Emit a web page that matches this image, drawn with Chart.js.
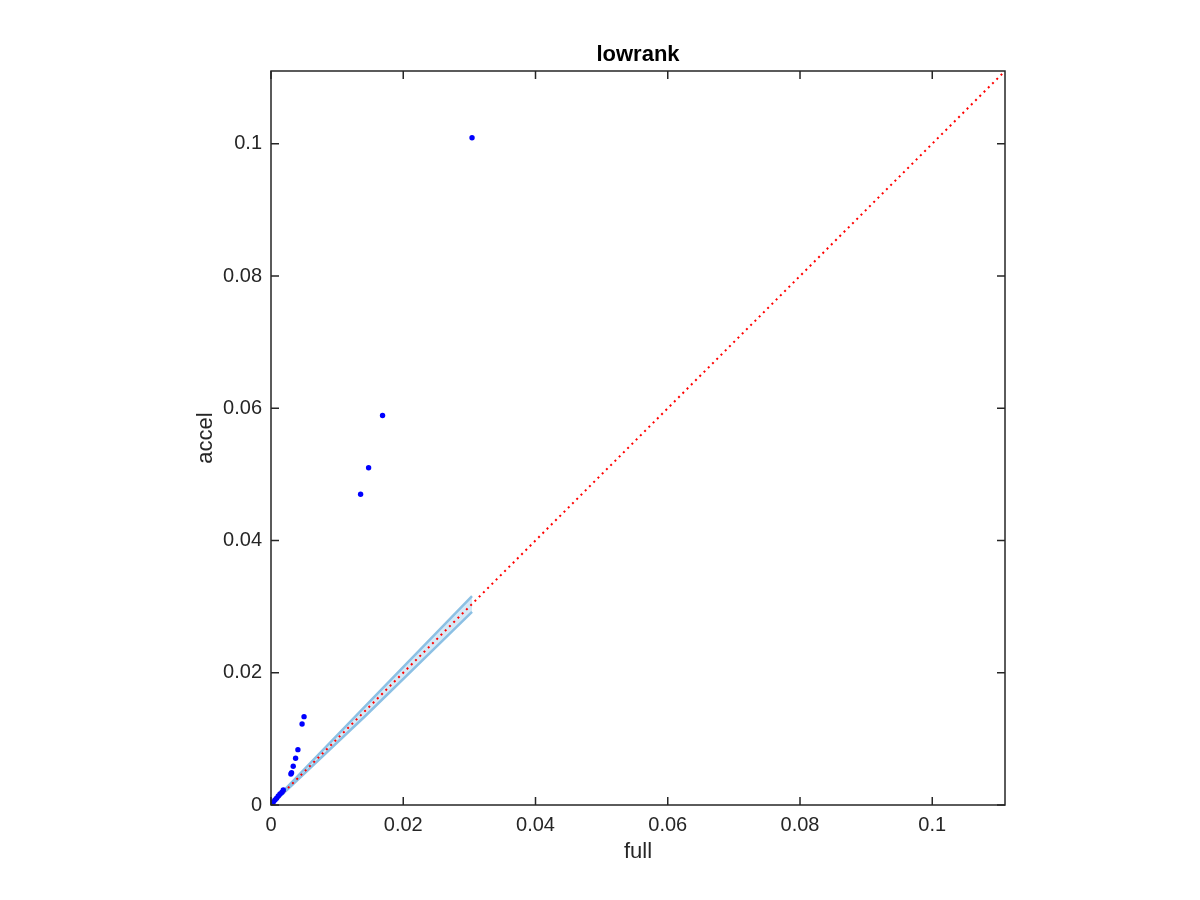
<!DOCTYPE html>
<html>
<head>
<meta charset="utf-8">
<script src="https://cdn.jsdelivr.net/npm/chart.js@4.4.1/dist/chart.umd.min.js"></script>
<style>
	html, body { margin: 0; padding: 0; background: #fff; }
	#wrap { width: 1200px; height: 900px; }
</style>
</head>
<body>
<div id="wrap"><canvas id="lowrank-canvas" width="1200" height="900"></canvas></div>
<script>
// scatter points (full vs accel)
const pointsFull  = [0.0304, 0.01687, 0.01476, 0.01355, 0.0050, 0.0047, 0.00407, 0.00372, 0.00336, 0.00311, 0.00301, 0.00186, 0.00166, 0.00136, 0.0011, 0.00085, 0.0006, 0.00035, 0.00015];
const pointsAccel = [0.1009, 0.0589, 0.0510, 0.0470, 0.01336, 0.01225, 0.00837, 0.00706, 0.00585, 0.00489, 0.00469, 0.00227, 0.00192, 0.00166, 0.00136, 0.00101, 0.00076, 0.00045, 0.00015];

// light blue band
const bandFull  = [0, 0.0143, 0.0304];
const bandUpper = [0.0002, 0.0150, 0.0316];
const bandLower = [0, 0.0135, 0.0292];

// axis range and ticks
const axisMax = 0.111;
const tickValues = [0, 0.02, 0.04, 0.06, 0.08, 0.1];
const tickLabels = ["0", "0.02", "0.04", "0.06", "0.08", "0.1"];
const titleText = "lowrank";

const diagData = [{x: 0, y: 0}, {x: axisMax, y: axisMax}];

const pointData = pointsFull.map((v, i) => ({x: v, y: pointsAccel[i]}));
const upperData = bandFull.map((v, i) => ({x: v, y: bandUpper[i]}));
const lowerData = bandFull.map((v, i) => ({x: v, y: bandLower[i]}));

const axisColor = "#262626";
const fontFamily = "'Liberation Sans', Arial, sans-serif";

// box around the axes with inward ticks on every side, title centred over the axes
const boxPlugin = {
	id: "box",
	afterDraw(chart) {
		const {ctx, chartArea: a, scales} = chart;
		ctx.save();
		ctx.strokeStyle = axisColor;
		ctx.lineWidth = 1.5;
		ctx.strokeRect(a.left, a.top, a.right - a.left, a.bottom - a.top);
		ctx.beginPath();
		tickValues.forEach(v => {
			const px = scales.x.getPixelForValue(v);
			const py = scales.y.getPixelForValue(v);
			ctx.moveTo(px, a.bottom); ctx.lineTo(px, a.bottom - 8);
			ctx.moveTo(px, a.top); ctx.lineTo(px, a.top + 8);
			ctx.moveTo(a.left, py); ctx.lineTo(a.left + 8, py);
			ctx.moveTo(a.right, py); ctx.lineTo(a.right - 8, py);
		});
		ctx.stroke();

		ctx.fillStyle = "#000";
		ctx.font = "bold 22px " + fontFamily;
		ctx.textAlign = "center";
		ctx.textBaseline = "alphabetic";
		ctx.fillText(titleText, (a.left + a.right) / 2, a.top - 10);
		ctx.restore();
	}
};

new Chart("lowrank-canvas", {
	type: "scatter",
	data: {
		datasets: [
			{
				data: pointData,
				pointRadius: 2.7,
				pointBackgroundColor: "#0000ff",
				pointBorderWidth: 0,
				showLine: false
			},
			{
				data: diagData,
				showLine: true,
				pointRadius: 0,
				borderColor: "#ff0000",
				borderWidth: 2,
				borderDash: [2, 4]
			},
			{
				data: upperData,
				showLine: true,
				pointRadius: 0,
				borderColor: "#8cc0e4",
				borderWidth: 2.5,
				backgroundColor: "#d5e8f6",
				fill: "+1"
			},
			{
				data: lowerData,
				showLine: true,
				pointRadius: 0,
				borderColor: "#8cc0e4",
				borderWidth: 2.5,
				fill: false
			}
		]
	},
	options: {
		responsive: false,
		animation: false,
		layout: {
			padding: {left: 0, right: 195, top: 71, bottom: 0}
		},
		scales: {
			x: {
				type: "linear",
				min: 0,
				max: axisMax,
				afterBuildTicks: scale => { scale.ticks = tickValues.map(v => ({value: v})); },
				afterFit: scale => { scale.height = 95; },
				ticks: {
					padding: 8,
					color: axisColor,
					font: {family: fontFamily, size: 20},
					maxRotation: 0,
					callback: (value, index) => tickLabels[index]
				},
				grid: {display: false, drawTicks: false},
				border: {display: false},
				title: {
					display: true,
					text: "full",
					color: axisColor,
					font: {family: fontFamily, size: 22},
					padding: {top: 0, bottom: 35}
				}
			},
			y: {
				type: "linear",
				min: 0,
				max: axisMax,
				afterBuildTicks: scale => { scale.ticks = tickValues.map(v => ({value: v})); },
				afterFit: scale => { scale.width = 271; },
				ticks: {
					padding: 9,
					color: axisColor,
					font: {family: fontFamily, size: 20},
					callback: (value, index) => tickLabels[index]
				},
				grid: {display: false, drawTicks: false},
				border: {display: false},
				title: {
					display: true,
					text: "accel",
					color: axisColor,
					font: {family: fontFamily, size: 22},
					padding: {top: 193, bottom: 0}
				}
			}
		},
		plugins: {
			tooltip: {enabled: false},
			legend: {display: false},
			title: {display: false},
			filler: {drawTime: "beforeDatasetsDraw"}
		}
	},
	plugins: [boxPlugin]
});
</script>
</body>
</html>
